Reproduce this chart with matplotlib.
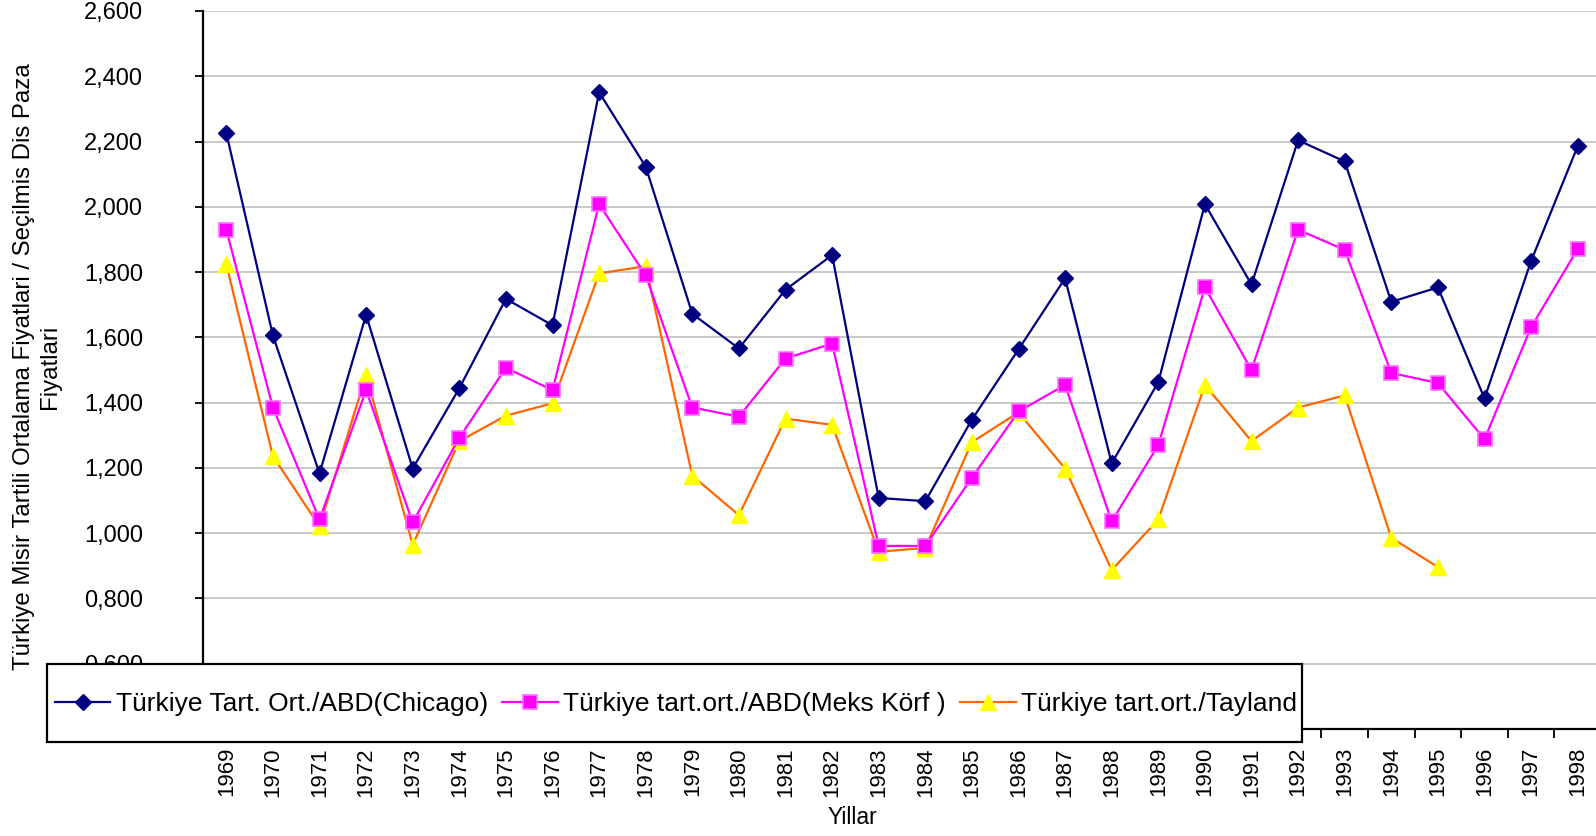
import numpy as np
import matplotlib
matplotlib.use("Agg")
import matplotlib.pyplot as plt
from matplotlib.patches import Rectangle
from matplotlib.ticker import FuncFormatter, MultipleLocator

years = list(range(1969, 1999))

chicago = [2.226, 1.606, 1.183, 1.669, 1.198, 1.444, 1.718, 1.637, 2.351, 2.123,
           1.672, 1.566, 1.746, 1.852, 1.108, 1.098, 1.348, 1.563, 1.781, 1.214,
           1.463, 2.008, 1.762, 2.204, 2.139, 1.709, 1.753, 1.413, 1.834, 2.186]

meks = [1.930, 1.385, 1.042, 1.438, 1.033, 1.292, 1.507, 1.438, 2.008, 1.790,
        1.385, 1.357, 1.535, 1.581, 0.961, 0.961, 1.170, 1.373, 1.454, 1.036,
        1.270, 1.753, 1.500, 1.930, 1.868, 1.491, 1.460, 1.288, 1.631, 1.871]

tayland = [1.824, 1.236, 1.021, 1.485, 0.964, 1.282, 1.360, 1.398, 1.796, 1.818,
           1.176, 1.055, 1.351, 1.332, 0.943, 0.955, 1.279, 1.370, 1.198, 0.887,
           1.042, 1.454, 1.282, 1.385, 1.422, 0.986, 0.896, np.nan, np.nan, np.nan]

labels = ["Türkiye Tart. Ort./ABD(Chicago)",
          "Türkiye tart.ort./ABD(Meks Körf )",
          "Türkiye tart.ort./Tayland"]

plt.rcParams['font.family'] = ['Liberation Sans', 'DejaVu Sans']

W, H = 1596, 836
fig = plt.figure(figsize=(W / 100, H / 100), dpi=100)
ax = fig.add_axes([203 / W, 1 - 729 / H, (1601 - 203) / W, (729 - 11) / H])

x = np.arange(len(years))
l1, = ax.plot(x, chicago, color='#000080', lw=1.6, marker='D', ms=8.5,
              mfc='#000080', mec='#000080', clip_on=False, zorder=5)
l2, = ax.plot(x, meks, color='#FF00FF', lw=1.6, marker='s', ms=9.5,
              mfc='#FF00FF', mec='#FF70FF', mew=1.2, clip_on=False, zorder=4)
l3, = ax.plot(x, tayland, color='#FF6600', lw=1.6, marker='^', ms=11,
              mfc='#FFFF00', mec='#FFFF00', clip_on=False, zorder=3)

ax.set_xlim(-0.5, len(years) - 0.5)
ax.set_ylim(0.4, 2.6)
ax.yaxis.set_major_locator(MultipleLocator(0.2))
ax.yaxis.set_major_formatter(FuncFormatter(lambda v, p: f"{v:.3f}".replace('.', ',')))
ax.yaxis.grid(True, color='#C0C0C0', lw=1.2)
ax.set_axisbelow(True)

ax.set_xticks(x)
ax.set_xticklabels([str(y) for y in years], rotation=90, fontsize=16)
ax.set_xticks(np.arange(len(years) - 1) + 0.5, minor=True)
ax.tick_params(axis='x', which='major', length=0, pad=13)
ax.tick_params(axis='x', which='minor', length=6.5, width=1.3, direction='out')
ax.tick_params(axis='y', length=6, width=1.3, direction='out', pad=37, labelsize=17)

for s in ['top', 'right']:
    ax.spines[s].set_visible(False)
for s in ['left', 'bottom']:
    ax.spines[s].set_linewidth(1.6)
    ax.spines[s].set_color('black')

# legend box drawn over the lower part of the plot
rect = Rectangle((47 / W, 1 - 742 / H), (1302 - 47) / W, (742 - 664) / H,
                 transform=fig.transFigure, facecolor='white', edgecolor='black',
                 lw=1.6, zorder=2)
fig.patches.append(rect)
fig.legend([l1, l2, l3], labels, loc='center', bbox_to_anchor=(676 / W, 1 - 704 / H),
           ncol=3, frameon=False, fontsize=19, handlelength=2.1, handletextpad=0.2,
           columnspacing=0.55, borderaxespad=0, borderpad=0)

fig.text(37 / W, 1 - 367 / H,
         "Türkiye Misir Tartili Ortalama Fiyatlari / Seçilmis Dis Paza\nFiyatlari",
         rotation=90, ha='center', va='center', multialignment='center',
         fontsize=17.3, linespacing=1.25)
fig.text(852 / W, 1 - 818 / H, "Yillar", ha='center', va='center', fontsize=16.5)

fig.savefig("out.png", dpi=100)
